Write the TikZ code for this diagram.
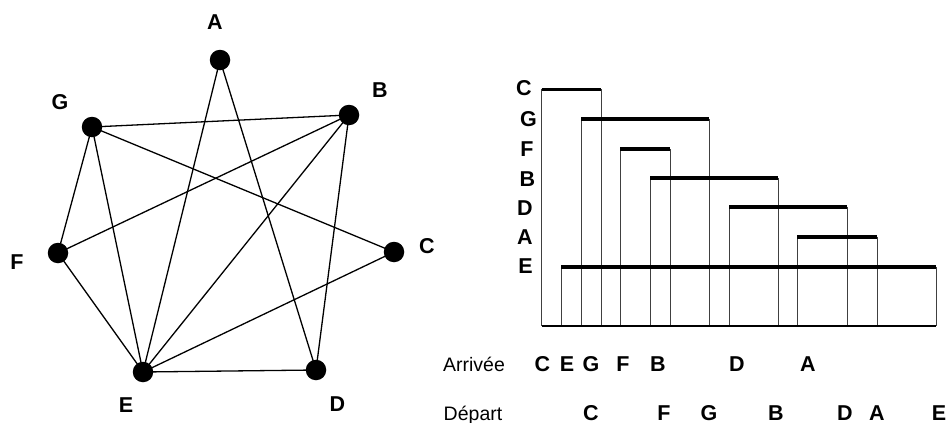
\documentclass[tikz,border=0pt]{standalone}
\usepackage{fontspec}
\setmainfont{Liberation Sans}
\begin{document}
\begin{tikzpicture}[x=1pt,y=-1pt,
  vtx/.style={circle,fill=black,inner sep=0pt,minimum size=20.5pt},
  lbl/.style={font=\fontsize{21.5}{22}\selectfont\bfseries,inner sep=0pt},
  reg/.style={font=\fontsize{19.5}{20}\selectfont,inner sep=0pt},
  edge/.style={line width=1.3pt},
  bar/.style={line width=3.2pt},
  stem/.style={line width=1pt,black!75},
  axisline/.style={line width=1.6pt}]
\useasboundingbox (0,0) rectangle (951,423);
% ---------------- graph ----------------
\node[vtx] (A) at (220,60) {};
\node[vtx] (B) at (349,115) {};
\node[vtx] (G) at (92,127) {};
\node[vtx] (C) at (394,252) {};
\node[vtx] (F) at (58,253) {};
\node[vtx] (E) at (143,372) {};
\node[vtx] (D) at (316,370) {};
\node[lbl] (lA) at (215,22) {A};
\node[lbl] (lB) at (380,90) {B};
\node[lbl] (lG) at (60,102) {G};
\node[lbl] (lC) at (427,246) {C};
\node[lbl] (lF) at (17,262.5) {F};
\node[lbl] (lE) at (126,405.5) {E};
\node[lbl] (lD) at (337.5,404.5) {D};
\draw[edge] (A.center) -- (E.center);
\draw[edge] (A.center) -- (D.center);
\draw[edge] (G.center) -- (B.center);
\draw[edge] (G.center) -- (C.center);
\draw[edge] (G.center) -- (F.center);
\draw[edge] (G.center) -- (E.center);
\draw[edge] (B.center) -- (F.center);
\draw[edge] (B.center) -- (E.center);
\draw[edge] (B.center) -- (D.center);
\draw[edge] (F.center) -- (E.center);
\draw[edge] (E.center) -- (C.center);
\draw[edge] (E.center) -- (D.center);
% ---------------- interval chart ----------------
\def\yb{326}
\coordinate (b0) at (541.7,\yb);
\coordinate (b1) at (936,\yb);
\coordinate (Cs) at (541.7,89.3); \coordinate (Ce) at (601,89.3);
\coordinate (Gs) at (581,119);   \coordinate (Ge) at (709,119);
\coordinate (Fs) at (620,149);   \coordinate (Fe) at (670,149);
\coordinate (Bs) at (650,178);   \coordinate (Be) at (778,178);
\coordinate (Ds) at (729,207);   \coordinate (De) at (847,207);
\coordinate (As) at (797,237);   \coordinate (Ae) at (877,237);
\coordinate (Es) at (561,267);   \coordinate (Ee) at (936,267);
\foreach \p in {Cs,Ce,Gs,Ge,Fs,Fe,Bs,Be,Ds,De,As,Ae,Es,Ee}
  \draw[stem] (\p) -- (\p |- b0);
\foreach \s/\e in {Cs/Ce,Gs/Ge,Fs/Fe,Bs/Be,Ds/De,As/Ae,Es/Ee}
  \draw[bar] (\s) -- (\e);
\draw[axisline] (b0) -- (b1);
% row labels
\node[lbl] (rC) at (524,88.5) {C};
\node[lbl] (rG) at (528.5,119.5) {G};
\node[lbl] (rF) at (527,149.5) {F};
\node[lbl] (rB) at (527.5,179.5) {B};
\node[lbl] (rD) at (525,208.5) {D};
\node[lbl] (rA) at (525,237) {A};
\node[lbl] (rE) at (525.5,266.5) {E};
% bottom rows
\node[reg,anchor=base] (arr) at (474,371) {Arrivée};
\node[reg,anchor=base] (dep) at (473,420) {Départ};
\foreach \x/\t [count=\i] in {542.5/C,567/E,591/G,623/F,658/B,737/D,808/A}
  \node[lbl,anchor=base] (a\i) at (\x,371) {\t};
\foreach \x/\t [count=\i] in {591/C,664/F,709/G,776/B,845/D,877/A,939/E}
  \node[lbl,anchor=base] (d\i) at (\x,420) {\t};
\end{tikzpicture}
\end{document}
